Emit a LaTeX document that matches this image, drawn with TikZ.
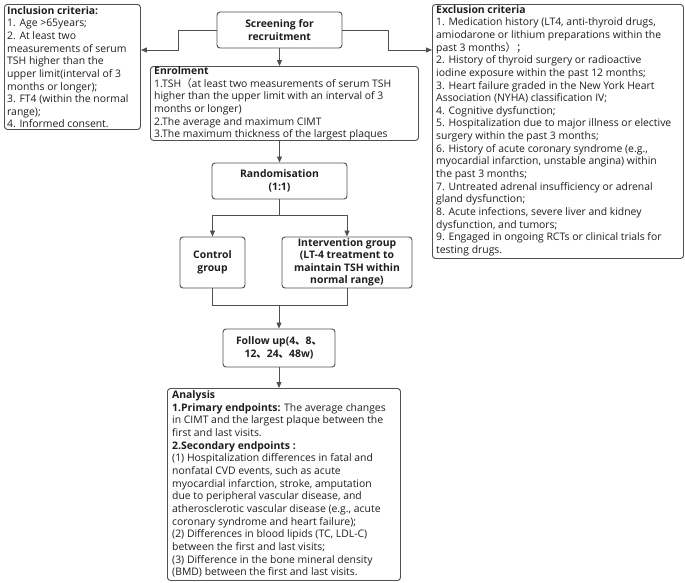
\documentclass[tikz,border=0pt]{standalone}
\usepackage{fontspec}
\setmainfont{Open Sans}
\newfontfamily\cjk{Noto Sans CJK SC}
\usetikzlibrary{arrows.meta}
\definecolor{linec}{HTML}{505050}
\definecolor{textc}{HTML}{1E1E1E}
\tikzset{
  box/.style={draw=linec, line width=0.95pt, rounded corners=3pt, inner sep=0pt},
  txt/.style={inner sep=0pt, align=left, text=textc, font=\fontsize{10.4}{12.65}\selectfont},
  ctxt/.style={inner sep=0pt, align=center, text=textc, font=\fontsize{10.4}{12.45}\selectfont\bfseries},
  arr/.style={draw=linec, line width=0.85pt, -{Triangle[length=6pt,width=5pt]}},
  ln/.style={draw=linec, line width=0.85pt},
}
\begin{document}
\begin{tikzpicture}[x=1pt,y=-1pt]
\useasboundingbox (0,0) rectangle (685,582);
% boxes
\node[box, anchor=north west, minimum width=136pt, minimum height=125pt] (incl) at (4,4) {};
\node[box, minimum width=125pt, minimum height=36pt] (screen) at (279.5,30) {};
\node[box, anchor=north west, minimum width=251pt, minimum height=254pt] (excl) at (432,4) {};
\node[box, anchor=north west, minimum width=268pt, minimum height=74pt] (enrol) at (150,66) {};
\node[box, minimum width=135pt, minimum height=36pt] (rand) at (279.5,181) {};
\node[box, minimum width=65pt, minimum height=51pt] (ctrl) at (212.5,262.5) {};
\node[box, minimum width=130pt, minimum height=51pt] (interv) at (347,262.5) {};
\node[box, minimum width=112pt, minimum height=38pt] (follow) at (279,348) {};
\node[box, anchor=north west, minimum width=233pt, minimum height=192pt] (anal) at (167,388) {};
% texts
\node[txt, anchor=north west] (inclt) at ([shift={(3,2)}]incl.north west) {\textbf{Inclusion criteria:}\\
1. Age >65years;\\
2. At least two\\
measurements of serum\\
TSH higher than the\\
upper limit(interval of 3\\
months or longer);\\
3. FT4 (within the normal\\
range);\\
4. Informed consent.};
\node[ctxt] (screent) at (screen.center) {Screening for\\recruitment};
\node[txt, anchor=north west] (exclt) at ([shift={(4,1)}]excl.north west) {\textbf{Exclusion criteria}\\
1. Medication history (LT4, anti-thyroid drugs,\\
amiodarone or lithium preparations within the\\
past 3 months{\cjk ）；}\\
2. History of thyroid surgery or radioactive\\
iodine exposure within the past 12 months;\\
3. Heart failure graded in the New York Heart\\
Association (NYHA) classification IV;\\
4. Cognitive dysfunction;\\
5. Hospitalization due to major illness or elective\\
surgery within the past 3 months;\\
6. History of acute coronary syndrome (e.g.,\\
myocardial infarction, unstable angina) within\\
the past 3 months;\\
7. Untreated adrenal insufficiency or adrenal\\
gland dysfunction;\\
8. Acute infections, severe liver and kidney\\
dysfunction, and tumors;\\
9. Engaged in ongoing RCTs or clinical trials for\\
testing drugs.};
\node[txt, anchor=north west] (enrolt) at ([shift={(4,0.5)}]enrol.north west) {\textbf{Enrolment}\\
1.TSH{\cjk （}at least two measurements of serum TSH\\
higher than the upper limit with an interval of 3\\
months or longer)\\
2.The average and maximum CIMT\\
3.The maximum thickness of the largest plaques};
\node[ctxt] (randt) at (rand.center) {Randomisation\\(1:1)};
\node[ctxt] (ctrlt) at (ctrl.center) {Control\\group};
\node[ctxt] (intervt) at (interv.center) {Intervention group\\(LT-4 treatment to\\maintain TSH within\\normal range)};
\node[ctxt] (followt) at (follow.center) {Follow up(4{\cjk 、}8{\cjk 、}\\12{\cjk 、}24{\cjk 、}48w)};
\node[txt, anchor=north west] (analt) at ([shift={(5,2.5)}]anal.north west) {\textbf{Analysis}\\
\textbf{1.Primary endpoints:} The average changes\\
in CIMT and the largest plaque between the\\
first and last visits.\\
\textbf{2.Secondary endpoints :}\\
(1) Hospitalization differences in fatal and\\
nonfatal CVD events, such as acute\\
myocardial infarction, stroke, amputation\\
due to peripheral vascular disease, and\\
atherosclerotic vascular disease (e.g., acute\\
coronary syndrome and heart failure);\\
(2) Differences in blood lipids (TC, LDL-C)\\
between the first and last visits;\\
(3) Difference in the bone mineral density\\
(BMD) between the first and last visits.};
% helper coordinates
\coordinate (lj1) at (178,30);
\coordinate (lj2) at (178,50);
\coordinate (rj1) at (388,30);
\coordinate (rj2) at (388,50);
\coordinate (rsplit) at (279.5,215);
\coordinate (fmerge) at (279,305);
% connectors
\draw[arr] (screen.west) -- (lj1) -- (lj2) -- (incl.east |- lj2);
\draw[arr] (screen.east) -- (rj1) -- (rj2) -- (excl.west |- rj2);
\draw[arr] (screen.south) -- (enrol.north -| screen.south);
\draw[arr] (enrol.south -| rand.north) -- (rand.north);
\draw[ln] (rand.south) -- (rsplit);
\draw[arr] (rsplit) -| (ctrl.north);
\draw[arr] (rsplit) -| (interv.north);
\draw[ln] (ctrl.south) |- (fmerge);
\draw[ln] (interv.south) |- (fmerge);
\draw[arr] (fmerge) -- (follow.north);
\draw[arr] (follow.south) -- (anal.north -| follow.south);
\end{tikzpicture}
\end{document}
